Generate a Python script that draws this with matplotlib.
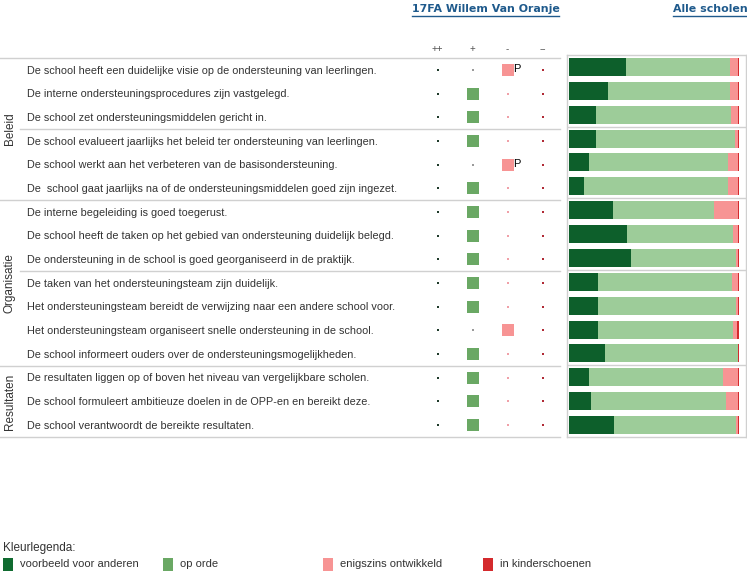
import matplotlib
matplotlib.use("Agg")
import matplotlib.pyplot as plt
from matplotlib.patches import Rectangle
from matplotlib.lines import Line2D

# ---- data ----
statements = [
    "De school heeft een duidelijke visie op de ondersteuning van leerlingen.",
    "De interne ondersteuningsprocedures zijn vastgelegd.",
    "De school zet ondersteuningsmiddelen gericht in.",
    "De school evalueert jaarlijks het beleid ter ondersteuning van leerlingen.",
    "De school werkt aan het verbeteren van de basisondersteuning.",
    "De  school gaat jaarlijks na of de ondersteuningsmiddelen goed zijn ingezet.",
    "De interne begeleiding is goed toegerust.",
    "De school heeft de taken op het gebied van ondersteuning duidelijk belegd.",
    "De ondersteuning in de school is goed georganiseerd in de praktijk.",
    "De taken van het ondersteuningsteam zijn duidelijk.",
    "Het ondersteuningsteam bereidt de verwijzing naar een andere school voor.",
    "Het ondersteuningsteam organiseert snelle ondersteuning in de school.",
    "De school informeert ouders over de ondersteuningsmogelijkheden.",
    "De resultaten liggen op of boven het niveau van vergelijkbare scholen.",
    "De school formuleert ambitieuze doelen in de OPP-en en bereikt deze.",
    "De school verantwoordt de bereikte resultaten.",
]
groups = ["Beleid", "Organisatie", "Resultaten"]
group_sizes = [6, 7, 3]
sub_breaks = [3, 9]  # thin separators inside a group

columns = ["++", "+", "-", "--"]
# school answer per statement: column index, and "P" marker
school_answer = [2, 1, 1, 1, 2, 1, 1, 1, 1, 1, 1, 2, 1, 1, 1, 1]
school_mark = ["P", "", "", "", "P", "", "", "", "", "", "", "", "", "", "", ""]

# all schools distribution (%)
voorbeeld = [33.5, 22.9, 15.9, 15.9, 11.8, 8.8, 25.9, 34.1, 36.5, 17.1, 17.1, 17.1, 21.2, 11.8, 12.9, 26.5]
op_orde = [61.2, 71.7, 79.2, 81.5, 81.6, 84.6, 59.4, 62.4, 61.6, 78.8, 81.3, 79.2, 78.2, 78.8, 79.4, 72.0]
enigszins = [4.7, 4.8, 4.3, 1.8, 6.0, 6.0, 14.1, 2.9, 1.3, 3.5, 1.0, 2.5, 0.0, 8.8, 7.1, 0.9]
kinderschoenen = [0.6, 0.6, 0.6, 0.8, 0.6, 0.6, 0.6, 0.6, 0.6, 0.6, 0.6, 1.2, 0.6, 0.6, 0.6, 0.6]

legend_labels = ["voorbeeld voor anderen", "op orde", "enigszins ontwikkeld", "in kinderschoenen"]

# ---- styles ----
W, H = 747, 584
C_DARK = "#0d5f2b"
C_LIGHT = "#9dcc99"
C_PINK = "#f79494"
C_RED = "#d42a2d"
C_SQ_GREEN = "#6aa864"
legend_colors = ["#106b30", C_SQ_GREEN, C_PINK, C_RED]
dot_colors = ["#1e3a2a", "#9a9a9a", "#f0a0a8", "#b02a35"]
TXT = "#333333"
LINE = "#d0d0d0"
TITLE = "#1f5a8c"

plt.rcParams["font.family"] = ["Liberation Sans", "DejaVu Sans"]

fig = plt.figure(figsize=(W / 100, H / 100), dpi=100)
n = len(statements)


def frac_box(x0, y_top, x1, y_bot):
    return [x0 / W, 1 - y_bot / H, (x1 - x0) / W, (y_bot - y_top) / H]


# ---- statements table ----
ax_tab = fig.add_axes(frac_box(0, 58, 560, 437))
ax_tab.set_xlim(0, 560)
ax_tab.set_ylim(n - 0.5, -0.5)
ax_tab.axis("off")
for i, s in enumerate(statements):
    ax_tab.text(27, i + 0.03, s, fontsize=7.8, color=TXT, va="center", ha="left")

ax_tab.axhline(-0.5, color=LINE, lw=1, clip_on=False)
start = 0
for g, size in zip(groups, group_sizes):
    end = start + size
    ax_tab.text(10, (start + end - 1) / 2, g, rotation=90, fontsize=8.5,
                color=TXT, ha="center", va="center")
    ax_tab.axhline(end - 0.5, color=LINE, lw=1, clip_on=False)
    start = end
for b in sub_breaks:
    ax_tab.plot([20, 560], [b - 0.5, b - 0.5], color=LINE, lw=1, clip_on=False)

# ---- school answer matrix ----
ax_mat = fig.add_axes(frac_box(420, 58, 560, 437))
ax_mat.set_xlim(-0.5, len(columns) - 0.5)
ax_mat.set_ylim(n - 0.5, -0.5)
ax_mat.axis("off")
for j, c in enumerate(columns):
    ax_mat.text(j, -0.88, c, fontsize=7, color="#555555", ha="center",
                va="center", clip_on=False)
for i in range(n):
    for j in range(len(columns)):
        if school_answer[i] == j:
            col = C_SQ_GREEN if j <= 1 else C_PINK
            ax_mat.scatter(j, i, marker="s", s=78, color=col, linewidths=0)
            if school_mark[i]:
                ax_mat.text(j + 0.17, i - 0.04, school_mark[i], fontsize=8,
                            color="black", ha="left", va="center")
        else:
            ax_mat.scatter(j, i, marker="s", s=1.6, color=dot_colors[j],
                           linewidths=0)

# ---- all schools bars ----
ax_bar = fig.add_axes(frac_box(567, 55, 746, 437))
ax_bar.set_xlim(-1.2, 104.1)
ax_bar.set_ylim(n - 0.5, -0.5)
rows = list(range(n))
left = [0.0] * n
for vals, col in zip([voorbeeld, op_orde, enigszins, kinderschoenen],
                     [C_DARK, C_LIGHT, C_PINK, C_RED]):
    ax_bar.barh(rows, vals, left=left, height=0.75, color=col, linewidth=0)
    left = [a + b for a, b in zip(left, vals)]
for b in sub_breaks + [6, 13]:
    ax_bar.axhline(b - 0.5, color=LINE, lw=1)
ax_bar.set_xticks([])
ax_bar.set_yticks([])
for sp in ax_bar.spines.values():
    sp.set_color(LINE)
    sp.set_linewidth(1)

# ---- titles (underlined) ----
titles = [("17FA Willem Van Oranje", 485.5), ("Alle scholen", 710.5)]
title_texts = []
for t, x in titles:
    title_texts.append(fig.text(x / W, 1 - 9 / H, t, fontsize=7.9,
                                fontweight="bold", color=TITLE,
                                family="DejaVu Sans", ha="center", va="center"))
fig.canvas.draw()
r = fig.canvas.get_renderer()
for tt in title_texts:
    bb = tt.get_window_extent(renderer=r).transformed(fig.transFigure.inverted())
    fig.add_artist(Line2D([bb.x0, bb.x1], [bb.y0 - 1.5 / H] * 2,
                          transform=fig.transFigure, color=TITLE, lw=1))

# ---- colour legend ----
fig.text(3 / W, 1 - 548 / H, "Kleurlegenda:", fontsize=8.5, color=TXT,
         ha="left", va="center")
for k, (lab, col) in enumerate(zip(legend_labels, legend_colors)):
    x0 = 3 + 160 * k
    fig.add_artist(Rectangle((x0 / W, 1 - 571 / H), 10 / W, 13 / H,
                             transform=fig.transFigure, color=col, lw=0))
    fig.text((x0 + 17) / W, 1 - 564 / H, lab, fontsize=8, color=TXT,
             ha="left", va="center")

fig.savefig("out.png", dpi=100, facecolor="white")
